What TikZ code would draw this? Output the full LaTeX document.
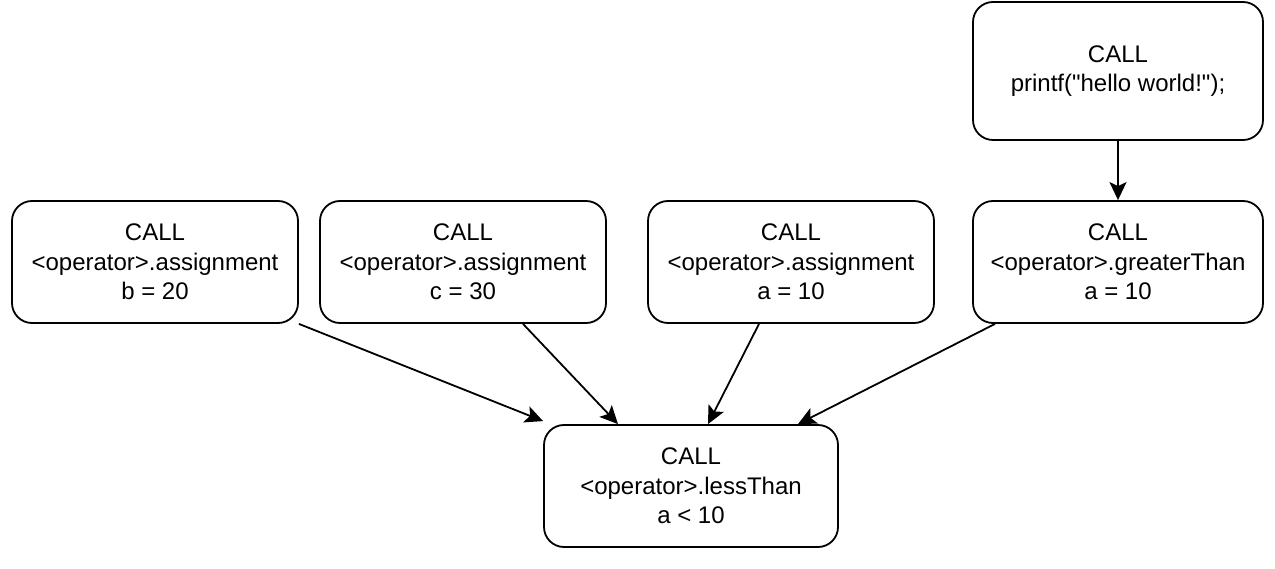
\documentclass[tikz,border=0pt]{standalone}
\usepackage{fontspec}
\setmainfont{Liberation Sans}
\usetikzlibrary{arrows.meta,positioning}

\begin{document}
\begin{tikzpicture}[
  x=1pt,y=-1pt,
  flow/.style={-{Stealth[length=18pt,width=17pt,inset=4pt]},line width=1.8pt,draw=black},
  callbox/.style={draw=black,line width=1.8pt,rounded corners=20pt,fill=white,
    minimum width=286pt,minimum height=122pt,align=center,
    font=\fontsize{24}{29.5}\selectfont,inner sep=2pt}
]
\useasboundingbox (0,0) rectangle (1275,569);
\node[callbox,minimum width=290pt,minimum height=138pt] (printf) at (1118,71)
  {CALL\\printf(\textquotedbl hello world!\textquotedbl);};
\node[callbox] (assignB) at (155,262) {CALL\\<operator>.assignment\\b = 20};
\node[callbox] (assignC) at (463,262) {CALL\\<operator>.assignment\\c = 30};
\node[callbox] (assignA) at (791,262) {CALL\\<operator>.assignment\\a = 10};
\node[callbox,minimum width=290pt] (greater) at (1118,262)
  {CALL\\<operator>.greaterThan\\a = 10};
\node[callbox,minimum width=294pt] (less) at (691,486)
  {CALL\\<operator>.lessThan\\a < 10};
\draw[flow] (printf) -- (greater);
\draw[flow] (assignB.south east) -- ([yshift=3pt]less.north west);
\draw[flow] ([xshift=60pt]assignC.south) -- ([xshift=-73pt]less.north);
\draw[flow] ([xshift=-32pt]assignA.south) -- ([xshift=17pt]less.north);
\draw[flow] ([xshift=-123pt]greater.south) -- ([xshift=107pt]less.north);
\end{tikzpicture}
\end{document}
